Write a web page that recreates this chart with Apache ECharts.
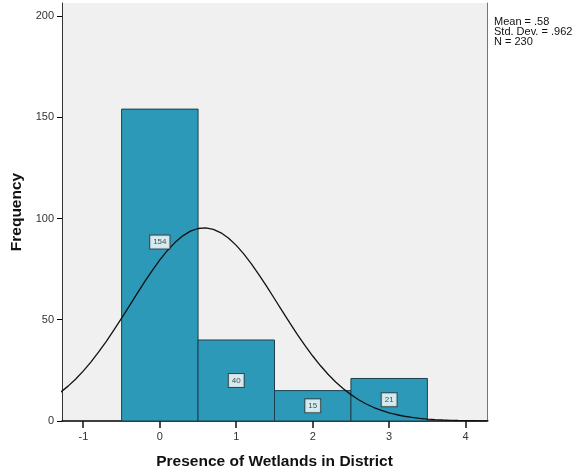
<!DOCTYPE html>
<html><head><meta charset="utf-8">
<script src="https://cdn.jsdelivr.net/npm/echarts@6/dist/echarts.min.js"></script>
<style>html,body{margin:0;padding:0;background:#fff}#c{width:581px;height:468px}</style>
</head><body><div id="c"></div>
<script>
// Histogram bins (centers) and frequencies
const binCenters = [0, 1, 2, 3];
const frequencies = [154, 40, 15, 21];
// Normal curve (x, frequency)
const curveX = [-1.3,-1.2,-1.1,-1.0,-0.9,-0.8,-0.7,-0.6,-0.5,-0.4,-0.3,-0.2,-0.1,0.0,0.1,0.2,0.3,0.4,0.5,0.6,0.7,0.8,0.9,1.0,1.1,1.2,1.3,1.4,1.5,1.6,1.7,1.8,1.9,2.0,2.1,2.2,2.3,2.4,2.5,2.6,2.7,2.8,2.9,3.0,3.1,3.2,3.3,3.4,3.5,3.6,3.7,3.8,3.9,4.0,4.1,4.2,4.3];
const curveY = [14.13,17.22,20.76,24.75,29.21,34.09,39.36,44.95,50.79,56.77,62.77,68.66,74.30,79.53,84.21,88.22,91.42,93.73,95.05,95.36,94.65,92.92,90.25,86.71,82.42,77.49,72.08,66.33,60.37,54.37,48.43,42.67,37.21,32.09,27.38,23.10,19.29,15.93,13.02,10.52,8.41,6.65,5.21,4.03,3.09,2.34,1.75,1.30,0.95,0.69,0.50,0.35,0.25,0.17,0.12,0.08,0.05];
const xTicks = [-1, 0, 1, 2, 3, 4];
const yTicks = [0, 50, 100, 150, 200];
const statsText = ['Mean = .58', 'Std. Dev. = .962', 'N = 230'];

const chart = echarts.init(document.getElementById('c'), null, {renderer: 'canvas'});
const font = 'Arial, "Liberation Sans", sans-serif';
const option = {
  animation: false,
  backgroundColor: '#ffffff',
  grid: {left: 62, top: 3, width: 425, height: 418, backgroundColor: '#f0f0f0', show: true, borderWidth: 0,
         containLabel: false, outerBoundsMode: 'none'},
  xAxis: {
    type: 'value', min: -1.28, max: 4.28,
    name: 'Presence of Wetlands in District', nameLocation: 'middle', nameGap: 33,
    nameTextStyle: {fontFamily: font, fontWeight: 'bold', fontSize: 15.5, color: '#111'},
    axisLine: {show: true, onZero: false, lineStyle: {color: '#000', width: 1.5}},
    axisTick: {show: false},
    axisLabel: {customValues: xTicks, fontFamily: font, fontSize: 11, color: '#333', margin: 10},
    splitLine: {show: false}
  },
  yAxis: [{
    type: 'value', min: 0, max: 206.4,
    name: 'Frequency', nameLocation: 'middle', nameGap: 36, nameRotate: 90,
    nameTextStyle: {fontFamily: font, fontWeight: 'bold', fontSize: 15.5, color: '#111'},
    axisLine: {show: true, onZero: false, lineStyle: {color: '#333', width: 1}},
    axisTick: {show: true, inside: false, length: 5, customValues: yTicks, lineStyle: {color: '#000', width: 1}},
    axisLabel: {customValues: yTicks, fontFamily: font, fontSize: 11, color: '#333', margin: 8},
    splitLine: {show: false}
  }, {
    type: 'value', min: 0, max: 206.4, position: 'right',
    axisLine: {show: true, onZero: false, lineStyle: {color: '#777', width: 1}},
    axisTick: {show: false}, axisLabel: {show: false}, splitLine: {show: false}
  }],
  series: [{
    type: 'custom',
    data: binCenters.map((c, i) => [c, frequencies[i]]),
    renderItem: function (params, api) {
      const c = api.value(0), v = api.value(1);
      const p0 = api.coord([c - 0.5, v]);
      const p1 = api.coord([c + 0.5, 0]);
      return {
        type: 'rect',
        shape: {x: p0[0], y: p0[1], width: p1[0] - p0[0], height: p1[1] - p0[1]},
        style: {fill: '#2b99b7', stroke: '#1d3f4c', lineWidth: 1}
      };
    },
    z: 2
  }, {
    // x-axis tick marks placed through the x scale
    type: 'custom',
    data: xTicks.map((t) => [t, 0]),
    clip: false,
    silent: true,
    renderItem: function (params, api) {
      const p = api.coord([api.value(0), 0]);
      const x = Math.round(p[0]);
      return {
        type: 'rect',
        shape: {x: x - 0.75, y: p[1], width: 1.5, height: 7},
        style: {fill: '#111'}
      };
    },
    z: 6
  }, {
    type: 'scatter',
    data: binCenters.map((c, i) => ({
      value: [c, frequencies[i] / 2],
      label: i === 0 ? {offset: [0, -23]} : {}
    })),
    symbolSize: 0,
    label: {
      show: true, position: 'inside',
      formatter: (p) => String(frequencies[p.dataIndex]),
      fontFamily: font, fontSize: 8, color: '#222',
      backgroundColor: '#fff', borderColor: '#333', borderWidth: 1,
      padding: [3, 3, 2, 3]
    },
    z: 5
  }, {
    type: 'line',
    data: curveX.map((x, i) => [x, curveY[i]]),
    smooth: false, showSymbol: false, symbol: 'none',
    lineStyle: {color: '#111', width: 1.3},
    clip: true,
    z: 4
  }],
  graphic: statsText.map((t, i) => ({
    type: 'text', left: 494, top: 16 + i * 10,
    style: {text: t, fontFamily: font, fontSize: 11, fill: '#111'}
  }))
};
chart.setOption(option);
</script>
</body></html>
